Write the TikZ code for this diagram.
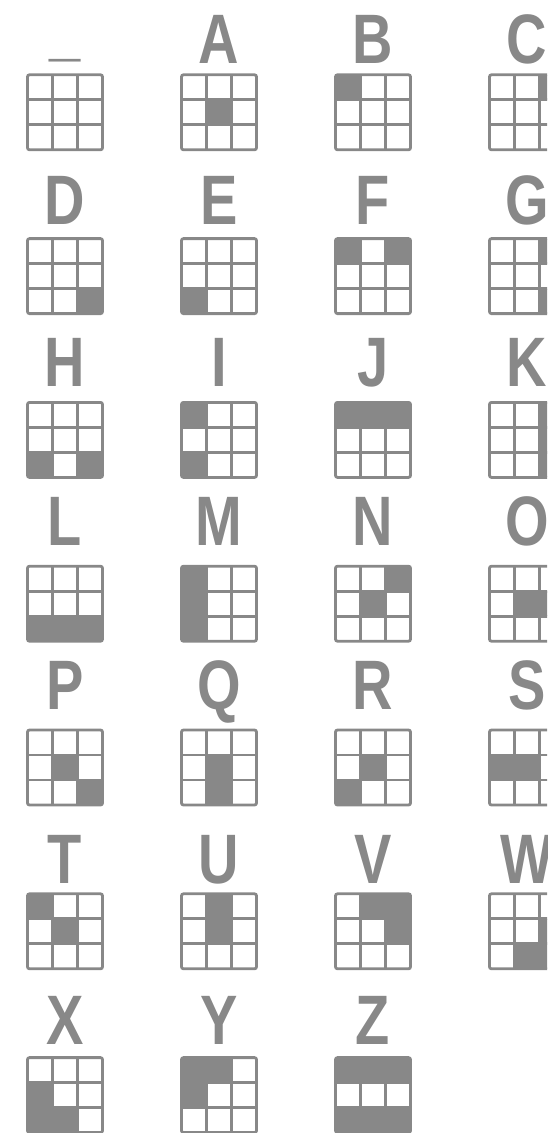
\documentclass[tikz,border=0pt]{standalone}
\usepackage{fontspec}
\IfFontExistsTF{Liberation Sans Narrow}{\setmainfont{Liberation Sans Narrow}}{\setmainfont{Liberation Sans}[FakeStretch=0.8]}
\definecolor{ink}{HTML}{888888}
\tikzset{
  gridline/.style={draw=ink, line width=2.8pt},
  gridframe/.style={draw=ink, line width=2.8pt, rounded corners=2pt},
  lab/.style={text=ink, inner sep=0pt, anchor=base, font=\bfseries\fontsize{70}{70}\selectfont},
}
\newcommand\lettergrid[3]{% col, row, filled cells i/j
  \begin{scope}[shift={(27.5+154*#1,74.8+163.8*#2)}]
    \foreach \i/\j in {#3} {\fill[ink] (25*\i,25*\j) rectangle ++(25,25);}
    \draw[gridline] (25,0) -- (25,75) (50,0) -- (50,75) (0,25) -- (75,25) (0,50) -- (75,50);
    \draw[gridframe] (0,0) rectangle (75,75);
  \end{scope}}
\newcommand\emptygrid[2]{% col, row
  \begin{scope}[shift={(27.5+154*#1,74.8+163.8*#2)}]
    \draw[gridline] (25,0) -- (25,75) (50,0) -- (50,75) (0,25) -- (75,25) (0,50) -- (75,50);
    \draw[gridframe] (0,0) rectangle (75,75);
  \end{scope}}
\begin{document}
\begin{tikzpicture}[x=1pt,y=-1pt]
\useasboundingbox (0,0) rectangle (547,1133);
\clip (0,0) rectangle (547,1133);
% row 1
\node[lab] (nUS) at (65,53) {\_};
\node[lab] (nA) at (219,63) {A};
\node[lab] (nB) at (373,63) {B};
\node[lab] (nC) at (527,63) {C};
\emptygrid{0}{0}
\lettergrid{1}{0}{1/1}
\lettergrid{2}{0}{0/0}
\lettergrid{3}{0}{2/0}
% row 2
\node[lab] (nD) at (65,224) {D};
\node[lab] (nE) at (219,224) {E};
\node[lab] (nF) at (373,224) {F};
\node[lab] (nG) at (527,224) {G};
\lettergrid{0}{1}{2/2}
\lettergrid{1}{1}{0/2}
\lettergrid{2}{1}{0/0,2/0}
\lettergrid{3}{1}{2/0,2/2}
% row 3
\node[lab] (nH) at (65,386) {H};
\node[lab] (nI) at (219,386) {I};
\node[lab] (nJ) at (373,386) {J};
\node[lab] (nK) at (527,386) {K};
\lettergrid{0}{2}{0/2,2/2}
\lettergrid{1}{2}{0/0,0/2}
\lettergrid{2}{2}{0/0,1/0,2/0}
\lettergrid{3}{2}{2/0,2/1,2/2}
% row 4
\node[lab] (nL) at (65,545) {L};
\node[lab] (nM) at (219,545) {M};
\node[lab] (nN) at (373,545) {N};
\node[lab] (nO) at (527,545) {O};
\lettergrid{0}{3}{0/2,1/2,2/2}
\lettergrid{1}{3}{0/0,0/1,0/2}
\lettergrid{2}{3}{2/0,1/1}
\lettergrid{3}{3}{1/1,2/1}
% row 5
\node[lab] (nP) at (65,709) {P};
\node[lab] (nQ) at (219,709) {Q};
\node[lab] (nR) at (373,709) {R};
\node[lab] (nS) at (527,709) {S};
\lettergrid{0}{4}{1/1,2/2}
\lettergrid{1}{4}{1/1,1/2}
\lettergrid{2}{4}{1/1,0/2}
\lettergrid{3}{4}{0/1,1/1}
% row 6
\node[lab] (nT) at (65,883) {T};
\node[lab] (nU) at (219,883) {U};
\node[lab] (nV) at (373,883) {V};
\node[lab] (nW) at (527,883) {W};
\lettergrid{0}{5}{0/0,1/1}
\lettergrid{1}{5}{1/0,1/1}
\lettergrid{2}{5}{1/0,2/0,2/1}
\lettergrid{3}{5}{2/1,1/2,2/2}
% row 7
\node[lab] (nX) at (65,1044) {X};
\node[lab] (nY) at (219,1044) {Y};
\node[lab] (nZ) at (373,1044) {Z};
\lettergrid{0}{6}{0/1,0/2,1/2}
\lettergrid{1}{6}{0/0,1/0,0/1}
\lettergrid{2}{6}{0/0,1/0,2/0,0/2,1/2,2/2}
\end{tikzpicture}
\end{document}
